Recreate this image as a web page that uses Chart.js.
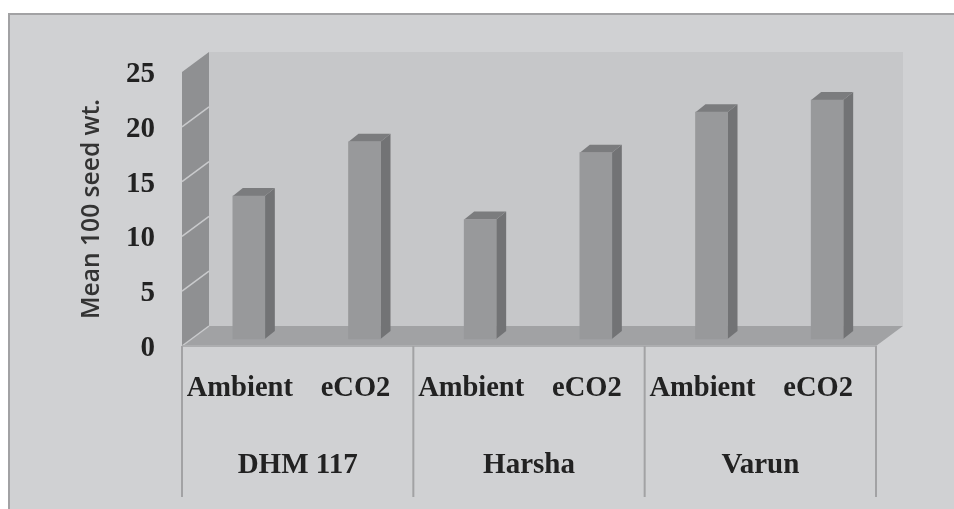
<!DOCTYPE html>
<html>
<head>
<meta charset="utf-8">
<style>
  html, body { margin: 0; padding: 0; background: #fff; }
  canvas { display: block; filter: blur(0.6px); }
</style>
<script src="https://cdn.jsdelivr.net/npm/chart.js@4"></script>
</head>
<body>
<canvas id="chart" width="954" height="509"></canvas>
<script>
/* DATA */
const treatments = ["Ambient", "eCO2", "Ambient", "eCO2", "Ambient", "eCO2"];
const varieties = ["DHM 117", "Harsha", "Varun"];
const seedWeight = [13.05, 18, 10.9, 17, 20.7, 21.8];

/* 3D LOOK */
const wallDx = 27, wallDy = 20;   // depth of the walls
const barDx = 9, barDy = 7;       // bars stand in the middle of the floor
const faceDx = 10, faceDy = 8;    // depth of each bar

const serif = "'Liberation Serif', serif";

function poly(ctx, color, pts) {
  ctx.fillStyle = color;
  ctx.beginPath();
  pts.forEach((p, i) => (i ? ctx.lineTo(p[0], p[1]) : ctx.moveTo(p[0], p[1])));
  ctx.closePath();
  ctx.fill();
}

function line(ctx, color, width, x1, y1, x2, y2) {
  ctx.strokeStyle = color;
  ctx.lineWidth = width;
  ctx.beginPath();
  ctx.moveTo(x1, y1);
  ctx.lineTo(x2, y2);
  ctx.stroke();
}

const walls = {
  id: "walls",
  beforeDraw(chart) {
    const { ctx, chartArea: a, scales } = chart;
    ctx.save();

    /* panel */
    ctx.fillStyle = "#d0d1d3";
    ctx.fillRect(8, 14, chart.width, chart.height);
    line(ctx, "#a2a2a4", 2, 8, 14, chart.width, 14);
    line(ctx, "#a2a2a4", 2, 9, 14, 9, chart.height);

    /* back wall, side wall, floor */
    ctx.fillStyle = "#c6c7c9";
    ctx.fillRect(a.left + wallDx, a.top - wallDy, a.width, a.height);
    poly(ctx, "#8f9092", [
      [a.left, a.top], [a.left + wallDx, a.top - wallDy],
      [a.left + wallDx, a.bottom - wallDy], [a.left, a.bottom]
    ]);
    poly(ctx, "#a1a2a4", [
      [a.left, a.bottom], [a.left + wallDx, a.bottom - wallDy],
      [a.right + wallDx, a.bottom - wallDy], [a.right, a.bottom]
    ]);

    /* grid on the side wall */
    scales.y.ticks.forEach(t => {
      if (t.value === scales.y.max) return;
      const y = scales.y.getPixelForValue(t.value);
      line(ctx, "#c9cacc", 1.5, a.left, y, a.left + wallDx, y - wallDy);
    });
    line(ctx, "#adaeb0", 2, a.left, a.bottom, a.right, a.bottom);

    /* separators of the label table */
    varieties.forEach((v, i) => {
      const x = scales.x2.getPixelForValue(i) - a.width / varieties.length / 2;
      line(ctx, "#a2a2a4", 2, x, a.bottom, x, 497);
    });
    line(ctx, "#a2a2a4", 2, a.right, a.bottom, a.right, 497);
    ctx.restore();
  }
};

const depth = {
  id: "depth",
  beforeDatasetsDraw(chart) {
    const { ctx } = chart;
    ctx.save();
    ctx.translate(barDx, -barDy);
    chart.getDatasetMeta(0).data.forEach(b => {
      const l = b.x - b.width / 2, r = b.x + b.width / 2;
      poly(ctx, "#727375", [
        [r, b.y], [r + faceDx, b.y - faceDy], [r + faceDx, b.base - faceDy], [r, b.base]
      ]);
      poly(ctx, "#7b7c7e", [
        [l, b.y], [l + faceDx, b.y - faceDy], [r + faceDx, b.y - faceDy], [r, b.y]
      ]);
    });
  },
  afterDatasetsDraw(chart) {
    chart.ctx.restore();
  }
};

new Chart(document.getElementById("chart"), {
  type: "bar",
  data: {
    labels: treatments,
    datasets: [{
      data: seedWeight,
      backgroundColor: "#98999b",
      barThickness: 32,
      clip: false
    }]
  },
  plugins: [walls, depth],
  options: {
    responsive: false,
    animation: false,
    layout: { padding: { top: 72, right: 78, left: 0, bottom: 0 } },
    plugins: { legend: { display: false }, tooltip: { enabled: false } },
    scales: {
      y: {
        min: 0,
        max: 25,
        ticks: {
          stepSize: 5,
          padding: 19,
          labelOffset: 2.5,
          color: "#222",
          font: { family: serif, size: 29, weight: "bold" }
        },
        grid: { display: false },
        border: { display: false },
        title: {
          display: true,
          text: "Mean 100 seed wt.",
          color: "#333",
          padding: { top: 77, bottom: 0 },
          font: { family: "'Open Sans', sans-serif", size: 24.6, weight: "600" }
        },
        afterFit(scale) { scale.width = 182; }
      },
      x: {
        position: "bottom",
        ticks: {
          padding: 26,
          maxRotation: 0,
          autoSkip: false,
          color: "#222",
          font: { family: serif, size: 28.5, weight: "bold" }
        },
        grid: { display: false, drawTicks: false },
        border: { display: false },
        afterFit(scale) { scale.height = 80; }
      },
      x2: {
        type: "category",
        position: "bottom",
        labels: varieties,
        ticks: {
          padding: 22,
          maxRotation: 0,
          color: "#222",
          font: { family: serif, size: 29, weight: "bold" }
        },
        grid: { display: false, drawTicks: false },
        border: { display: false },
        afterFit(scale) { scale.height = 83; }
      }
    }
  }
});
</script>
</body>
</html>
